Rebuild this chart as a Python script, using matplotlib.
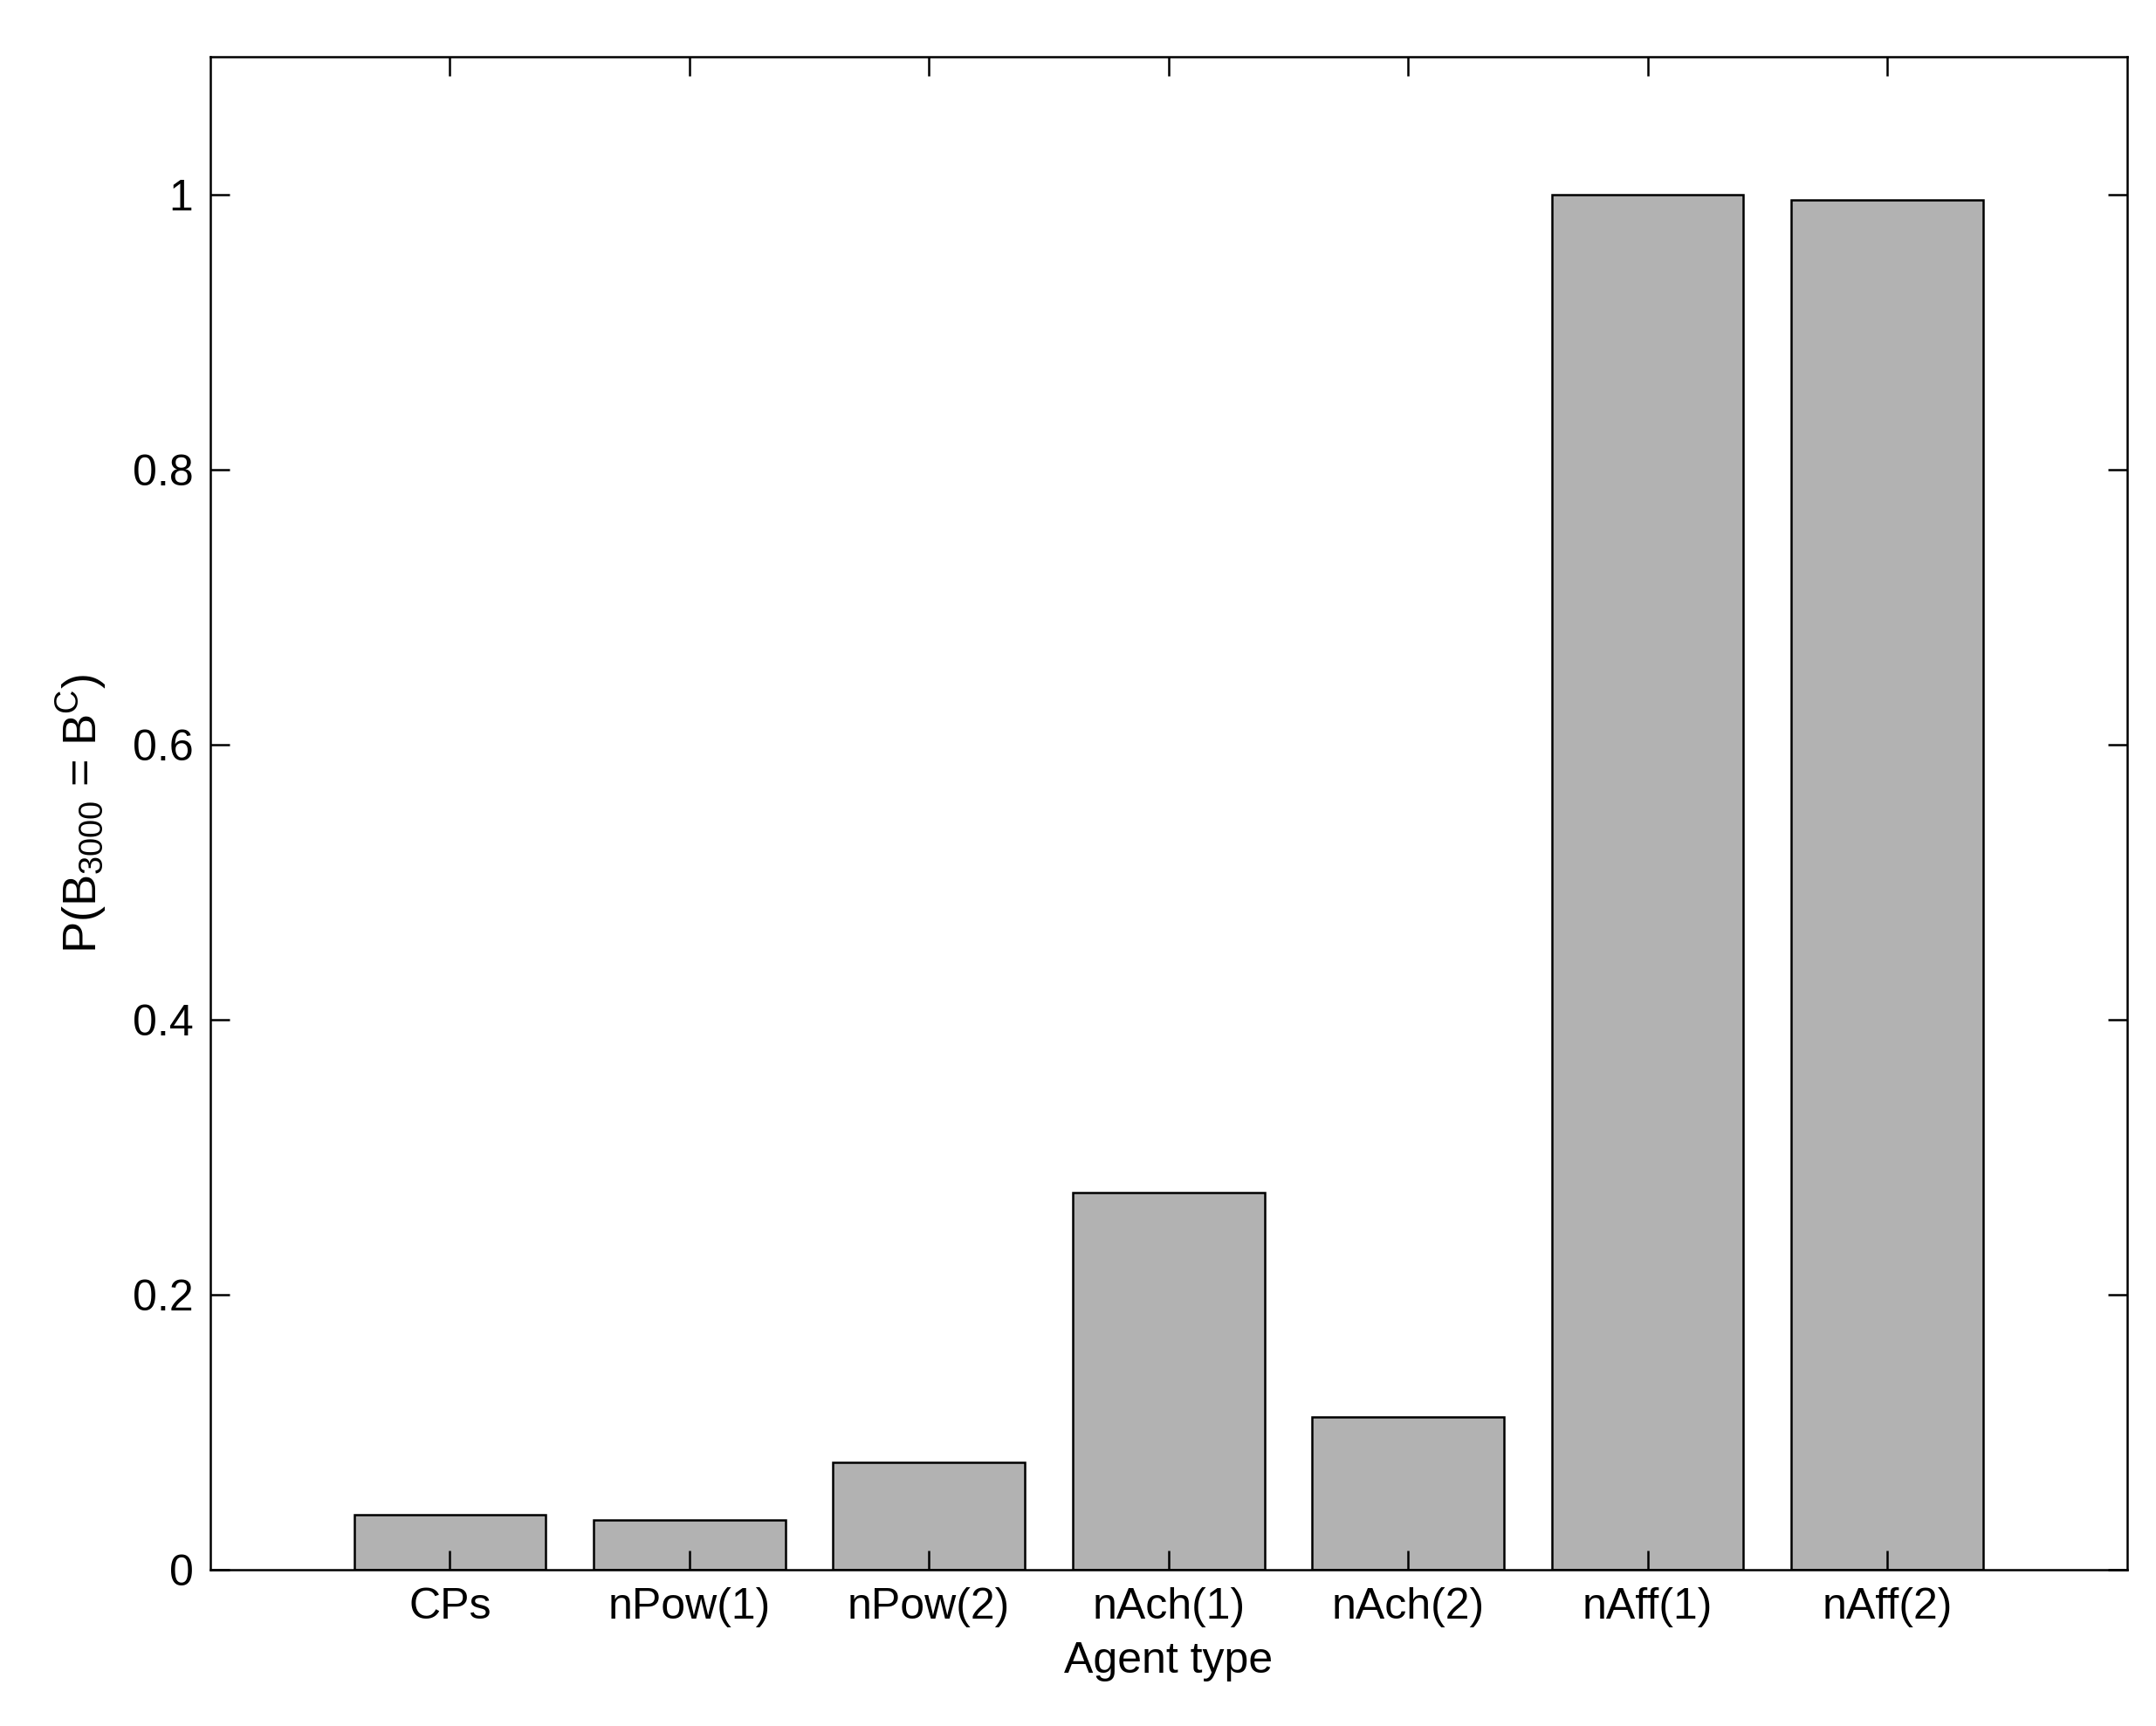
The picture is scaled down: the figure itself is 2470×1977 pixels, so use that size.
import matplotlib.pyplot as plt
import numpy as np

plt.rcParams['font.family'] = ['Liberation Sans', 'DejaVu Sans']
plt.rcParams['mathtext.default'] = 'regular'

agents = ['CPs', 'nPow(1)', 'nPow(2)', 'nAch(1)', 'nAch(2)', 'nAff(1)', 'nAff(2)']
prob = [0.040, 0.036, 0.078, 0.274, 0.111, 1.0, 0.996]
yticks = [0, 0.2, 0.4, 0.6, 0.8, 1]
ytick_labels = ['0', '0.2', '0.4', '0.6', '0.8', '1']

fig = plt.figure(figsize=(24.7, 19.77), dpi=100)
ax = fig.add_axes([0.0975, 0.0905, 0.889, 0.8765])

x = np.arange(1, len(agents) + 1)
ax.bar(x, prob, width=0.8, color='#b2b2b2', edgecolor='black', linewidth=1.8)

ax.set_xlim(0, 8)
ax.set_ylim(0, 1.1)
ax.set_xticks(x)
ax.set_xticklabels(agents)
ax.set_yticks(yticks)
ax.set_yticklabels(ytick_labels)
ax.tick_params(direction='in', length=16, width=1.8, top=True, right=True,
               labelsize=36, pad=14)
for s in ax.spines.values():
    s.set_linewidth(1.8)

ax.set_xlabel('Agent type', fontsize=36, labelpad=12)
ax.set_ylabel(r'P(B$_{3000}$ = B$^{C}$)', fontsize=39, labelpad=20)

fig.savefig('out.png', dpi=100)
